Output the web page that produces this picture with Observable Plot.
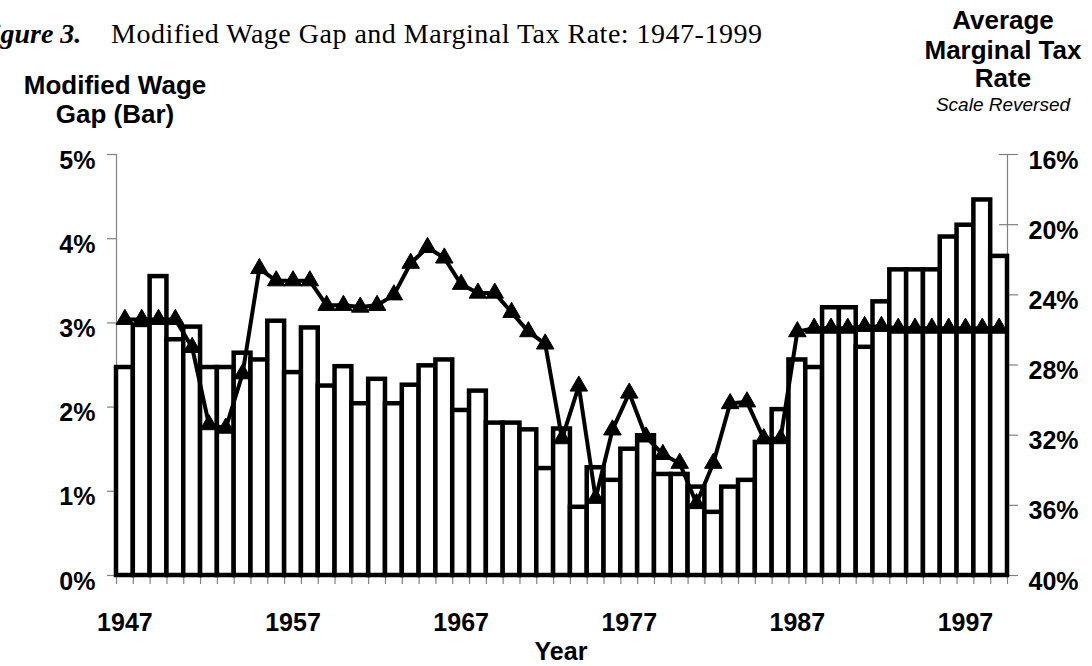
<!DOCTYPE html>
<html><head><meta charset="utf-8">
<script src="https://cdn.jsdelivr.net/npm/d3@7"></script>
<script src="https://cdn.jsdelivr.net/npm/@observablehq/plot@0.6"></script>
<style>
body{margin:0;background:#fff;}
#wrap{position:relative;width:1092px;height:666px;overflow:hidden;font-family:"Liberation Sans",Arial,sans-serif;color:#000;}
.t{position:absolute;white-space:nowrap;line-height:1;}
.b{font-weight:bold;}
.c{text-align:center;}
</style></head><body><div id="wrap"></div>
<script>
const years = [1947,1948,1949,1950,1951,1952,1953,1954,1955,1956,1957,1958,1959,1960,1961,1962,1963,1964,1965,1966,1967,1968,1969,1970,1971,1972,1973,1974,1975,1976,1977,1978,1979,1980,1981,1982,1983,1984,1985,1986,1987,1988,1989,1990,1991,1992,1993,1994,1995,1996,1997,1998,1999];
const wageGap = [2.47,2.97,3.55,2.80,2.95,2.47,2.47,2.64,2.56,3.02,2.41,2.94,2.25,2.48,2.04,2.33,2.04,2.26,2.49,2.56,1.96,2.19,1.81,1.81,1.73,1.27,1.74,0.81,1.28,1.13,1.50,1.66,1.20,1.20,1.05,0.75,1.05,1.13,1.58,1.97,2.56,2.47,3.18,3.18,2.71,3.25,3.63,3.63,3.63,4.02,4.16,4.46,3.79];
const taxRate = [25.4,25.4,25.4,25.4,27.0,31.4,31.6,28.5,22.5,23.2,23.2,23.2,24.6,24.6,24.7,24.6,24.0,22.2,21.3,21.9,23.4,23.9,23.9,25.0,26.1,26.8,32.2,29.2,35.6,31.7,29.6,32.1,33.1,33.6,35.9,33.6,30.2,30.1,32.2,32.2,26.1,25.9,25.9,25.9,25.8,25.8,25.9,25.9,25.9,25.9,25.9,25.9,25.9];
const gapTicks = [0,1,2,3,4,5];
const taxTicks = [16,20,24,28,32,36,40];
const yearLabels = [1947,1957,1967,1977,1987,1997];

// right (reversed) axis: 40% at bottom (gap 0), 16% at top (gap 5)
const taxToGap = t => (40 - t) / 24 * 5;
const gapToTax = g => 40 - g * 24 / 5;

const data = years.map((year, i) => ({year, gap: wageGap[i], tax: taxRate[i]}));
const boundaries = years.map(y => y - 0.5).concat([years[years.length - 1] + 0.5]);

const gray = "#808080";
const font = {fontSize: 25, fontWeight: "bold", fill: "#000"};

const chart = Plot.plot({
  width: 1092,
  height: 666,
  marginLeft: 116,
  marginRight: 85,
  marginTop: 154,
  marginBottom: 91,
  style: {fontFamily: "'Liberation Sans', Arial, sans-serif", background: "transparent", overflow: "visible"},
  x: {type: "linear", domain: [boundaries[0], boundaries[boundaries.length - 1]], axis: null},
  y: {domain: [0, 5], axis: null},
  marks: [
    // axis lines
    Plot.ruleX([boundaries[0]], {stroke: gray, strokeWidth: 1.2}),
    Plot.ruleX([boundaries[boundaries.length - 1]], {stroke: gray, strokeWidth: 1.2}),
    // bottom boundary ticks
    Plot.axisX({ticks: boundaries, tickSize: 9, tickFormat: () => "", stroke: gray, strokeWidth: 1.2, label: null}),
    // year labels
    Plot.axisX({ticks: yearLabels, tickSize: 0, tickPadding: 38, tickFormat: d => String(d), ...font, label: null}),
    // left axis
    Plot.axisY({anchor: "left", ticks: gapTicks, tickSize: 9, tickFormat: () => "", stroke: gray, strokeWidth: 1.2, label: null}),
    Plot.axisY({anchor: "left", ticks: gapTicks, tickSize: 0, tickPadding: 21, tickFormat: d => d + "%", ...font, dy: 6, label: null}),
    // right axis (reversed tax rate)
    Plot.axisY({anchor: "right", ticks: taxTicks.map(taxToGap), tickSize: 10, tickFormat: () => "", stroke: gray, strokeWidth: 1.2, label: null}),
    Plot.axisY({anchor: "right", ticks: taxTicks.map(taxToGap), tickSize: -9, tickFormat: () => "", stroke: gray, strokeWidth: 1.2, label: null}),
    Plot.axisY({anchor: "right", ticks: taxTicks.map(taxToGap), tickSize: 0, tickPadding: 21, tickFormat: v => Math.round(gapToTax(v)) + "%", ...font, dy: 6, label: null}),
    // bars
    Plot.rectY(data, {x1: d => d.year - 0.5, x2: d => d.year + 0.5, y: "gap", fill: "white", stroke: "black", strokeWidth: 4.5}),
    // tax line with triangle markers
    Plot.line(data, {x: "year", y: d => taxToGap(d.tax), stroke: "black", strokeWidth: 4, strokeLinejoin: "miter"}),
    Plot.dot(data, {x: "year", y: d => taxToGap(d.tax), symbol: "triangle", r: 6.5, fill: "black", stroke: "black", strokeWidth: 1})
  ]
});

const wrap = document.getElementById("wrap");
wrap.appendChild(chart);

function addText(html, cls, style) {
  const d = document.createElement("div");
  d.className = "t " + cls;
  d.innerHTML = html;
  Object.assign(d.style, style);
  wrap.appendChild(d);
}
const serif = "'Liberation Serif','Times New Roman',serif";
addText("Figure 3.", "", {left: "-26px", top: "20px", fontFamily: serif, fontSize: "28px", fontWeight: "bold", fontStyle: "italic"});
addText("Modified Wage Gap and Marginal Tax Rate: 1947-1999", "", {left: "111px", top: "20px", fontFamily: serif, fontSize: "28px", letterSpacing: "0.5px"});
addText("Modified Wage", "b c", {left: "-35px", width: "300px", top: "72px", fontSize: "26px"});
addText("Gap (Bar)", "b c", {left: "-35px", width: "300px", top: "101px", fontSize: "26px"});
addText("Average", "b c", {left: "853px", width: "300px", top: "7px", fontSize: "26px"});
addText("Marginal Tax", "b c", {left: "853px", width: "300px", top: "37px", fontSize: "26px"});
addText("Rate", "b c", {left: "853px", width: "300px", top: "65px", fontSize: "26px"});
addText("Scale Reversed", "c", {left: "853px", width: "300px", top: "95px", fontSize: "19px", fontStyle: "italic"});
addText("Year", "b c", {left: "411px", width: "300px", top: "639px", fontSize: "25px"});
</script>
</body></html>
